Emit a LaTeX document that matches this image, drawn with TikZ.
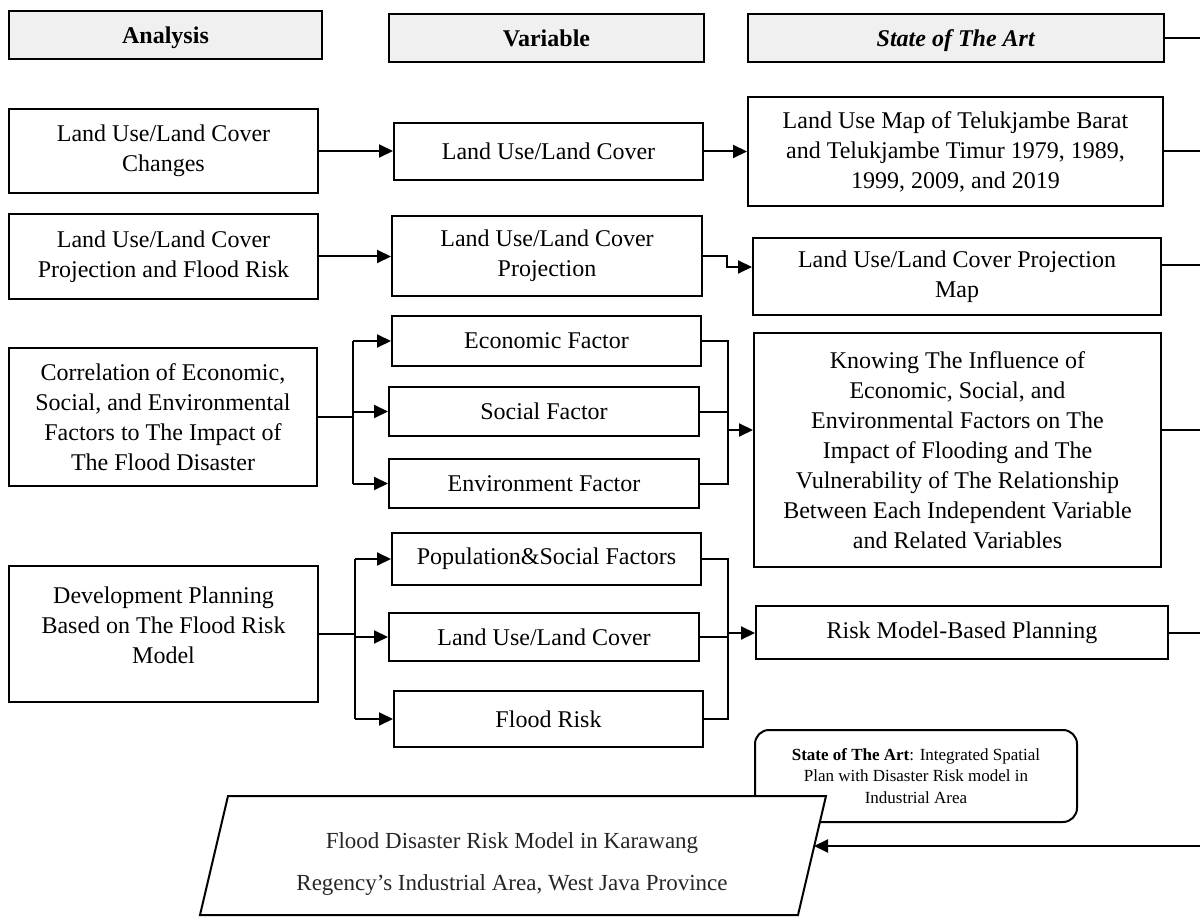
\documentclass[tikz,border=0pt]{standalone}
\usepackage{fontspec}
\setmainfont{Liberation Serif}
\usetikzlibrary{arrows.meta}
\tikzset{
  box/.style={draw, line width=2pt, fill=white, align=center, inner sep=0pt,
    font=\fontsize{24}{30}\selectfont},
  headbox/.style={box, line width=2.8pt, fill=gray!12, text height=18pt, text depth=0pt,
    font=\fontsize{24}{30}\selectfont\bfseries},
  arr/.style={-{Triangle[length=14pt,width=13pt]}, line width=2pt},
  ln/.style={line width=2pt},
}
\begin{document}
\begin{tikzpicture}[x=1pt,y=-1pt]
\useasboundingbox (0,0) rectangle (1200,917);

% headers
\node[headbox, minimum width=313pt, minimum height=48pt] (hA) at (165.5,35) {Analysis};
\node[headbox, minimum width=315pt, minimum height=48pt] (hV) at (546.5,38) {Variable};
\node[headbox, minimum width=416pt, minimum height=48pt] (hS) at (956,38) {\textit{State of The Art}};

% left column
\node[box, minimum width=309pt, minimum height=84pt] (L1) at (163.5,151) {Land Use/Land Cover\\Changes};
\node[box, minimum width=309pt, minimum height=85pt] (L2) at (163.5,256.5) {Land Use/Land Cover\\Projection and Flood Risk};
\node[box, minimum width=308pt, minimum height=138pt] (L3) at (163,417) {Correlation of Economic,\\Social, and Environmental\\Factors to The Impact of\\The Flood Disaster};
\node[box, minimum width=309pt, minimum height=136pt] (L4) at (163.5,634) {};
\node[align=center, inner sep=0pt, font=\fontsize{24}{30}\selectfont] (L4t) at (163.5,625) {Development Planning\\Based on The Flood Risk\\Model};

% middle column
\node[box, minimum width=309pt, minimum height=57pt] (M1) at (548.5,151.5) {Land Use/Land Cover};
\node[box, minimum width=310pt, minimum height=80pt] (M2) at (547,256) {Land Use/Land Cover\\Projection};
\node[box, minimum width=309pt, minimum height=50pt] (M3) at (546.5,341) {Economic Factor};
\node[box, minimum width=310pt, minimum height=49pt] (M4) at (544,411.5) {Social Factor};
\node[box, minimum width=310pt, minimum height=49pt] (M5) at (544,483.5) {Environment Factor};
\node[box, minimum width=309pt, minimum height=52pt] (M6) at (546.5,559) {Population\&Social Factors};
\node[box, minimum width=310pt, minimum height=48pt] (M7) at (544,637) {Land Use/Land Cover};
\node[box, minimum width=309pt, minimum height=56pt] (M8) at (548.5,719) {Flood Risk};

% right column
\node[box, minimum width=415pt, minimum height=109pt] (R1) at (955.5,151.5) {Land Use Map of Telukjambe Barat\\and Telukjambe Timur 1979, 1989,\\1999, 2009, and 2019};
\node[box, minimum width=408pt, minimum height=77pt] (R2) at (957,276.5) {Land Use/Land Cover Projection\\Map};
\node[box, minimum width=407pt, minimum height=234pt] (R3) at (957.5,450) {Knowing The Influence of\\Economic, Social, and\\Environmental Factors on The\\Impact of Flooding and The\\Vulnerability of The Relationship\\Between Each Independent Variable\\and Related Variables};
\node[box, minimum width=412pt, minimum height=53pt] (R5) at (962,632.5) {Risk Model-Based Planning};

% rows 1-2 connectors
\draw[arr] (L1.east) -- (L1.east -| M1.west);
\draw[arr] (M1.east) -- (M1.east -| R1.west);
\draw[arr] (L2.east) -- (L2.east -| M2.west);
\coordinate (j2a) at (727,256);
\coordinate (j2b) at (727,267);
\draw[arr] (M2.east) -- (j2a) -- (j2b) -- (j2b -| R2.west);

% row 3 connectors
\coordinate (b3) at (353,417);
\draw[ln] (L3.east) -- (b3);
\draw[ln] (b3 |- M3.west) -- (b3 |- M5.west);
\draw[arr] (b3 |- M3.west) -- (M3.west);
\draw[arr] (b3 |- M4.west) -- (M4.west);
\draw[arr] (b3 |- M5.west) -- (M5.west);
\coordinate (m3) at (728,430);
\draw[ln] (M3.east) -- (m3 |- M3.east) -- (m3 |- M5.east) -- (M5.east);
\draw[ln] (M4.east) -- (m3 |- M4.east);
\draw[arr] (m3) -- (m3 -| R3.west);

% row 4 connectors
\coordinate (b4) at (355,634);
\draw[ln] (L4.east) -- (b4);
\draw[ln] (b4 |- M6.west) -- (b4 |- M8.west);
\draw[arr] (b4 |- M6.west) -- (M6.west);
\draw[arr] (b4 |- M7.west) -- (M7.west);
\draw[arr] (b4 |- M8.west) -- (M8.west);
\coordinate (m4) at (728,633);
\draw[ln] (M6.east) -- (m4 |- M6.east) -- (m4 |- M8.east) -- (M8.east);
\draw[ln] (M7.east) -- (m4 |- M7.east);
\draw[arr] (m4) -- (m4 -| R5.west);

% outputs to the right edge
\coordinate (o0) at (1200,38);
\coordinate (o2) at (1200,265);
\coordinate (o3) at (1200,430);
\coordinate (o6) at (1200,846);
\draw[ln] (hS.east) -- (hS.east -| o0);
\draw[ln] (R1.east) -- (R1.east -| o0);
\draw[ln] (o2 -| R2.east) -- (o2);
\draw[ln] (o3 -| R3.east) -- (o3);
\draw[ln] (R5.east) -- (R5.east -| o0);

% callout
\node[box, rounded corners=14pt, minimum width=322pt, minimum height=92pt,
  font=\fontsize{17}{21.5}\selectfont] (callout) at (916,776)
  {\textbf{State of The Art}: Integrated Spatial\\Plan with Disaster Risk model in\\Industrial Area};

% parallelogram
\coordinate (pa) at (228,796);
\coordinate (pb) at (826,796);
\coordinate (pc) at (798,915);
\coordinate (pd) at (200,915);
\draw[ln, fill=white] (pa) -- (pb) -- (pc) -- (pd) -- cycle;
\node[align=center, inner sep=0pt, text=black!85, font=\fontsize{23}{42}\selectfont] (ptext) at (512,864)
  {Flood Disaster Risk Model in Karawang\\Regency’s Industrial Area, West Java Province};
\coordinate (pin) at (814,846);
\draw[arr] (o6) -- (pin);
\end{tikzpicture}
\end{document}
